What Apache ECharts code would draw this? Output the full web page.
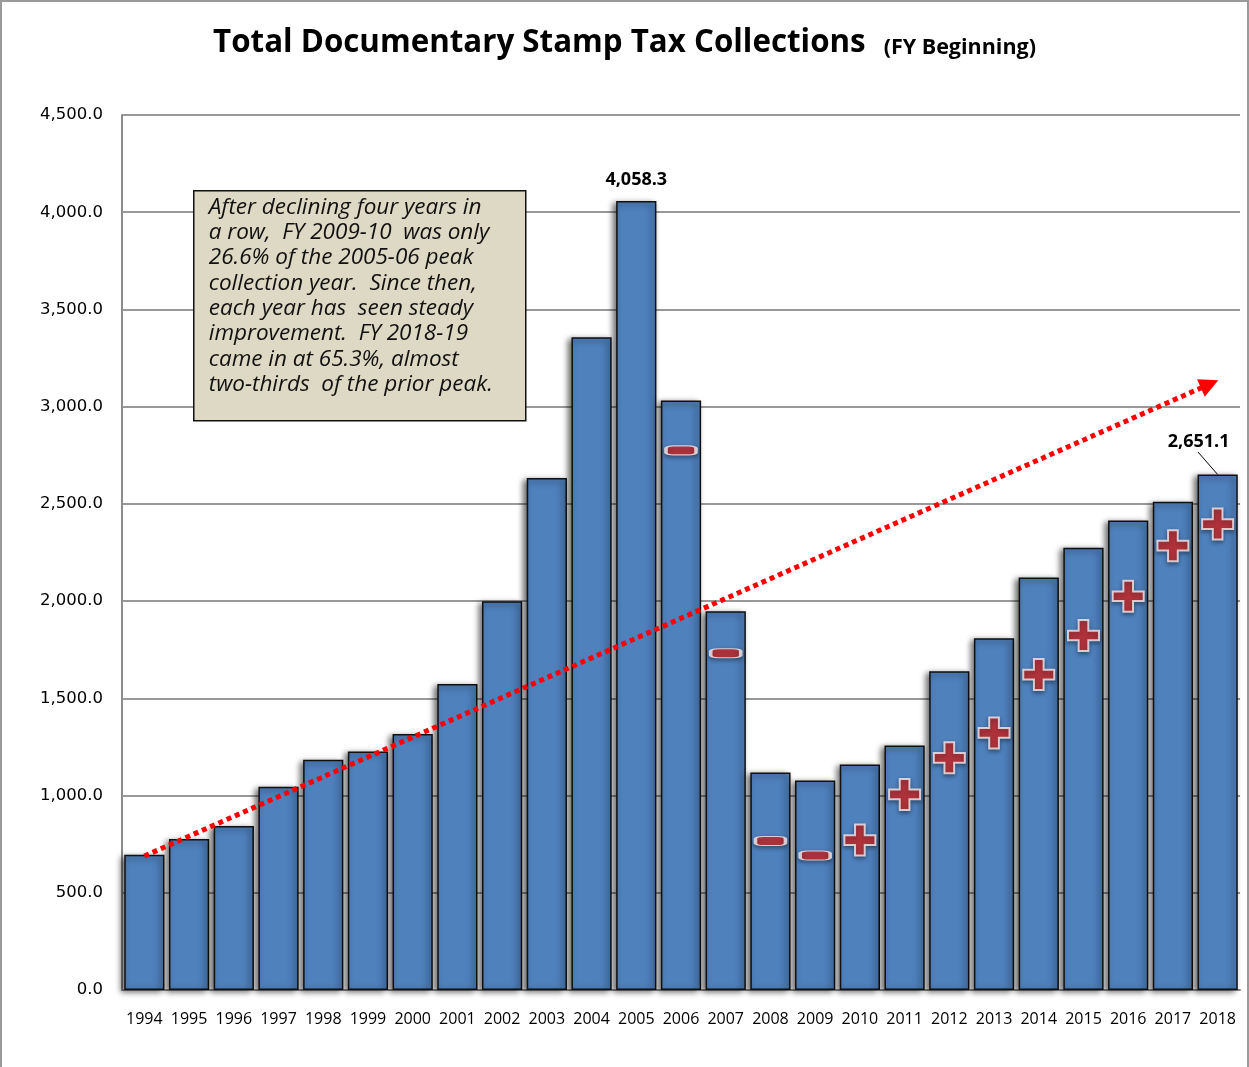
<!DOCTYPE html>
<html>
<head>
<meta charset="utf-8">
<script src="https://cdn.jsdelivr.net/npm/echarts@6/dist/echarts.min.js"></script>
<style>
html,body{margin:0;padding:0;background:#fff;}
#frame{position:absolute;left:0;top:0;width:1245px;height:1067px;border-left:2px solid #9a9a9a;border-top:2px solid #9a9a9a;border-right:2px solid #9a9a9a;}
#chart{position:absolute;left:0;top:0;width:1249px;height:1067px;}
</style>
</head>
<body>
<div id="frame"></div>
<div id="chart"></div>
<script>
const years = ['1994','1995','1996','1997','1998','1999','2000','2001','2002','2003','2004','2005','2006','2007','2008','2009','2010','2011','2012','2013','2014','2015','2016','2017','2018'];
const collections = [695, 776, 843, 1045, 1184, 1227, 1316, 1574, 1999, 2633, 3357, 4058.3, 3032, 1948, 1119, 1078, 1160, 1257, 1639, 1809, 2121, 2275, 2414, 2511, 2651.1];
const labelledYears = ['2005', '2018'];
const yTicks = [0, 500, 1000, 1500, 2000, 2500, 3000, 3500, 4000, 4500];
// change markers (+ / -) inside bars
const signYears  = ['2006','2007','2008','2009','2010','2011','2012','2013','2014','2015','2016','2017','2018'];
const signValues = [2775, 1732, 766, 692, 771, 1006, 1194, 1322, 1622, 1823, 2025, 2285, 2396];
const signTypes  = ['-','-','-','-','+','+','+','+','+','+','+','+','+'];
// dotted trend arrow (x as position in category units, y as value)
const trendStart = [0, 689];
const trendEnd = [23.82, 3116];
// leader line for the last label (x in category units, y as value)
const leaderStart = [24, 2651.1];
const leaderEnd = [23.56, 2767];
const noteLines = [
  'After declining four years in',
  'a row,  FY 2009-10  was only',
  '26.6% of the 2005-06 peak',
  'collection year.  Since then,',
  'each year has  seen steady',
  'improvement.  FY 2018-19',
  'came in at 65.3%, almost',
  'two-thirds  of the prior peak.'
];

const fmt = v => Number(v).toLocaleString('en-US', {minimumFractionDigits: 1, maximumFractionDigits: 1});

const chart = echarts.init(document.getElementById('chart'), null, {renderer: 'canvas'});

const barData = collections.map((v, i) => {
  const item = {value: v};
  if (labelledYears.includes(years[i])) {
    item.label = {show: true};
  }
  return item;
});

const plusPath = 'path://M11,0H21V11H32V21H21V32H11V21H0V11H11Z';
const signData = signYears.map((y, i) => ({
  value: [y, signValues[i]],
  symbol: signTypes[i] === '+' ? plusPath : 'roundRect',
  symbolSize: signTypes[i] === '+' ? [31, 31] : [30, 9]
}));

chart.setOption({
  animation: false,
  title: {
    text: '{a|Total Documentary Stamp Tax Collections}  {b|(FY Beginning)}',
    left: 'center',
    top: 23,
    textStyle: {
      rich: {
        a: {fontFamily: '"Open Sans", sans-serif', fontWeight: 'bold', fontSize: 31.3, color: '#000'},
        b: {fontFamily: '"Open Sans", sans-serif', fontWeight: 'bold', fontSize: 21.5, color: '#000', padding: [8, 0, 0, 8]}
      }
    }
  },
  grid: {left: 122, right: 9, top: 115, bottom: 77, containLabel: false},
  xAxis: [
    {
      type: 'category',
      data: years,
      axisLine: {show: true, lineStyle: {color: '#8c8c8c', width: 2}},
      axisTick: {show: false},
      axisLabel: {
        interval: 0, color: '#000', margin: 21,
        fontFamily: '"Liberation Sans Narrow", "Open Sans", sans-serif', fontSize: 16
      }
    },
    {
      type: 'value', show: false,
      min: -0.5, max: years.length - 0.5,
      splitLine: {show: false}
    }
  ],
  yAxis: {
    type: 'value',
    min: yTicks[0], max: yTicks[yTicks.length - 1], interval: 500,
    axisLine: {show: true, onZero: false, lineStyle: {color: '#8c8c8c', width: 2}},
    axisTick: {show: false},
    splitLine: {show: true, lineStyle: {color: '#999', width: 2}},
    axisLabel: {
      color: '#000', margin: 19,
      fontFamily: '"DejaVu Sans", Verdana, sans-serif', fontSize: 16.5,
      formatter: v => fmt(v)
    }
  },
  series: [
    {
      type: 'bar',
      data: barData,
      barCategoryGap: '10%',
      itemStyle: {
        color: '#4F81BD', borderColor: '#111', borderWidth: 1.5,
        shadowColor: 'rgba(0,0,0,0.6)', shadowBlur: 6, shadowOffsetX: -3, shadowOffsetY: 2
      },
      label: {
        show: false, position: 'top', distance: 12,
        fontFamily: '"Open Sans", sans-serif', fontWeight: 'bold', fontSize: 18, color: '#000',
        formatter: p => fmt(p.value)
      },
      labelLayout: p => p.dataIndex === collections.length - 1 ? {dx: -19, dy: -12} : {},
      z: 2
    },
    {
      type: 'line',
      xAxisIndex: 1,
      data: [],
      markLine: {
        silent: true,
        label: {show: false},
        data: [
          [
            {coord: trendStart, symbol: 'none',
             lineStyle: {color: '#FF0000', width: 5, type: [5, 4], cap: 'butt', opacity: 1}},
            {coord: trendEnd, symbol: 'triangle', symbolSize: [19, 19]}
          ],
          [
            {coord: leaderStart, symbol: 'none',
             lineStyle: {color: '#000', width: 1, type: 'solid', opacity: 1}},
            {coord: leaderEnd, symbol: 'none'}
          ]
        ]
      },
      z: 3
    },
    {
      type: 'scatter',
      data: signData,
      itemStyle: {
        color: '#D02A2C', borderColor: '#F6ECEC', borderWidth: 2,
        shadowColor: 'rgba(0,0,0,0.45)', shadowBlur: 4, shadowOffsetY: 2
      },
      z: 5
    }
  ],
  graphic: [
    {
      type: 'group', left: 193, top: 190, z: 100,
      children: [
        {type: 'rect', z: 100, shape: {x: 0, y: 0, width: 332, height: 230},
         style: {fill: '#DDD9C4', stroke: '#111', lineWidth: 1.5}},
        {type: 'text', z: 101, left: 15, top: 4,
         style: {text: noteLines.join('\n'), fill: '#111',
                 font: 'italic 22.5px "Open Sans", sans-serif', lineHeight: 25.3}}
      ]
    }
  ]
});
</script>
</body>
</html>
